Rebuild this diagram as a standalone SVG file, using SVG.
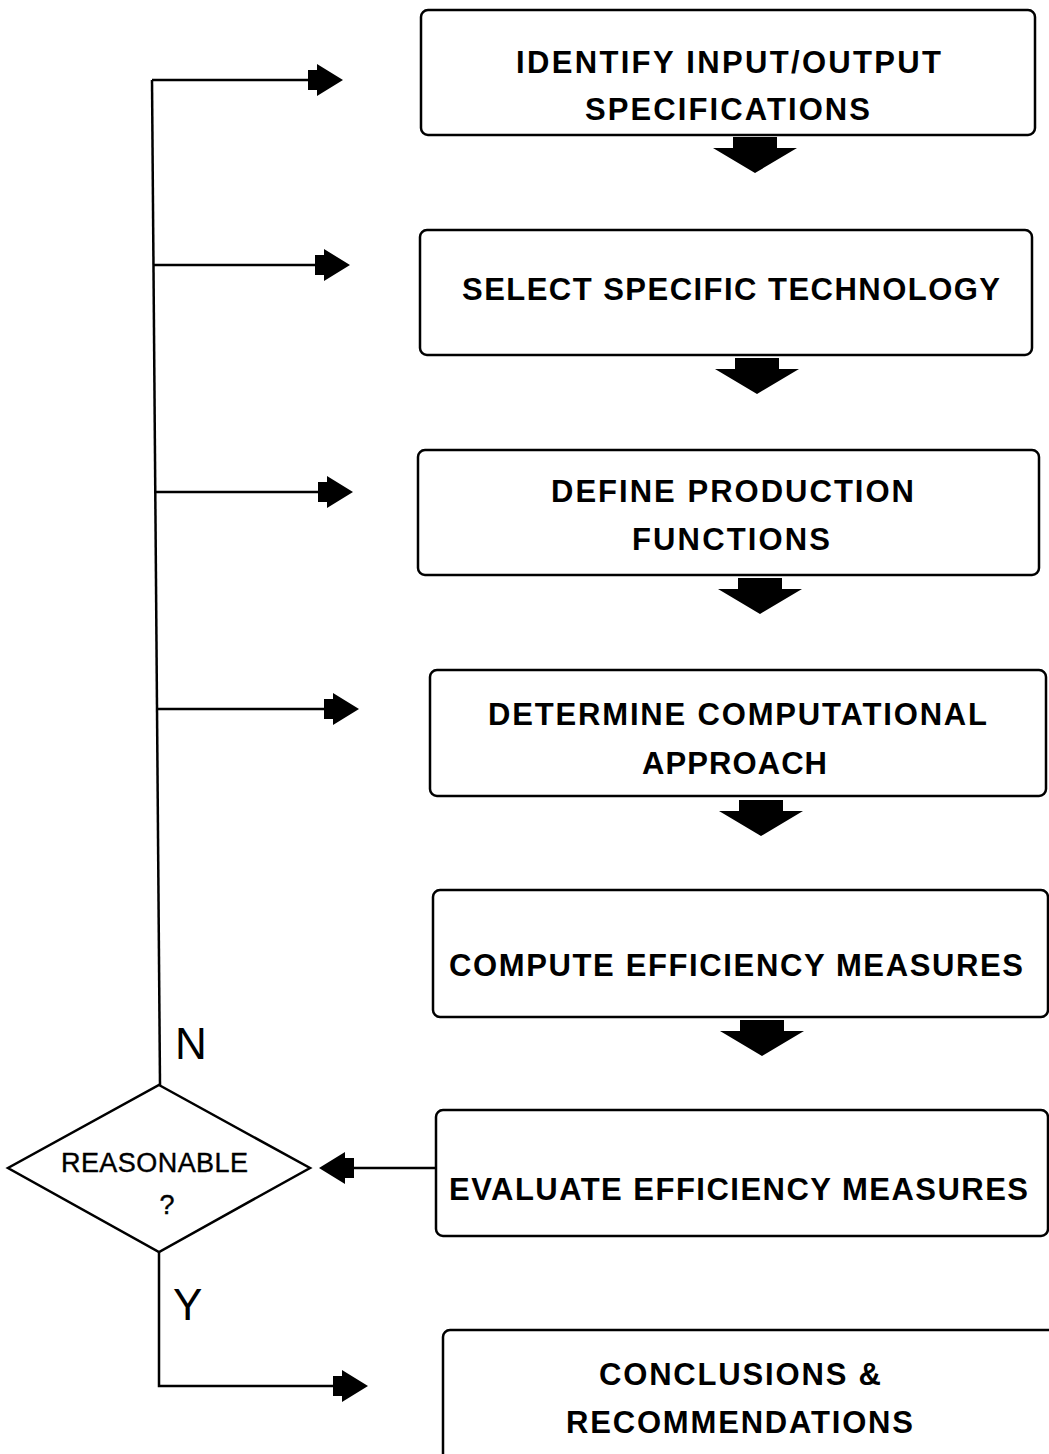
<svg xmlns="http://www.w3.org/2000/svg" width="1049" height="1454" viewBox="0 0 1049 1454">
<defs>
<style>
.box{fill:#fff;stroke:#000;stroke-width:2.5}
.t{font-family:"Liberation Sans",Arial,sans-serif;font-weight:bold;font-size:31px;fill:#000;text-anchor:middle}
.lbl{font-family:"Liberation Sans",Arial,sans-serif;font-size:44px;fill:#000}
.dt{font-family:"Liberation Sans",Arial,sans-serif;font-size:27px;fill:#000;text-anchor:middle;stroke:#000;stroke-width:0.4}
.ln{fill:none;stroke:#000;stroke-width:2.5}
.ah{fill:#000}
</style>
<polygon id="rarrow" points="0,0 -26,-16 -26,-10 -35,-10 -35,10 -26,10 -26,16"/>
<polygon id="darrow" points="0,0 -42,-25 -22,-25 -22,-36 22,-36 22,-25 42,-25"/>
</defs>
<rect width="1049" height="1454" fill="#fff"/>
<g id="connectors">
<polyline class="ln" points="152,80 160,1085"/>
<line class="ln" x1="152" y1="80" x2="312" y2="80"/>
<line class="ln" x1="154" y1="265" x2="318" y2="265"/>
<line class="ln" x1="156" y1="492" x2="320" y2="492"/>
<line class="ln" x1="158" y1="709" x2="326" y2="709"/>
<use class="ah" href="#rarrow" x="343" y="80"/>
<use class="ah" href="#rarrow" x="350" y="265"/>
<use class="ah" href="#rarrow" x="353" y="492"/>
<use class="ah" href="#rarrow" x="359" y="709"/>
<use class="ah" href="#darrow" x="755" y="173"/>
<use class="ah" href="#darrow" x="757" y="394"/>
<use class="ah" href="#darrow" x="760" y="614"/>
<use class="ah" href="#darrow" x="761" y="836"/>
<use class="ah" href="#darrow" x="762" y="1056"/>
<line class="ln" x1="436" y1="1168" x2="350" y2="1168"/>
<use class="ah" href="#rarrow" transform="translate(319,1168) rotate(180)"/>
<polyline class="ln" points="159,1252 159,1386 336,1386"/>
<use class="ah" href="#rarrow" x="368" y="1386"/>
</g>
<g id="n1">
<rect class="box" x="421" y="10" width="614" height="125" rx="7"/>
<text class="t" x="728.5" y="73" textLength="425" lengthAdjust="spacing">IDENTIFY INPUT/OUTPUT</text>
<text class="t" x="727.5" y="120" textLength="285" lengthAdjust="spacing">SPECIFICATIONS</text>
</g>
<g id="n2">
<rect class="box" x="420" y="230" width="612" height="125" rx="7"/>
<text class="t" x="731" y="300" textLength="538" lengthAdjust="spacing">SELECT SPECIFIC TECHNOLOGY</text>
</g>
<g id="n3">
<rect class="box" x="418" y="450" width="621" height="125" rx="7"/>
<text class="t" x="732.5" y="502" textLength="363" lengthAdjust="spacing">DEFINE PRODUCTION</text>
<text class="t" x="731" y="550" textLength="198" lengthAdjust="spacing">FUNCTIONS</text>
</g>
<g id="n4">
<rect class="box" x="430" y="670" width="616" height="126" rx="7"/>
<text class="t" x="737.5" y="725" textLength="499" lengthAdjust="spacing">DETERMINE COMPUTATIONAL</text>
<text class="t" x="734.5" y="774" textLength="185" lengthAdjust="spacing">APPROACH</text>
</g>
<g id="n5">
<rect class="box" x="433" y="890" width="615" height="127" rx="7"/>
<text class="t" x="736" y="976" textLength="574" lengthAdjust="spacing">COMPUTE EFFICIENCY MEASURES</text>
</g>
<g id="n6">
<rect class="box" x="436" y="1110" width="612" height="126" rx="7"/>
<text class="t" x="738.5" y="1200" textLength="579" lengthAdjust="spacing">EVALUATE EFFICIENCY MEASURES</text>
</g>
<g id="n7">
<rect class="box" x="443" y="1330" width="620" height="140" rx="7"/>
<text class="t" x="740" y="1385" textLength="282" lengthAdjust="spacing">CONCLUSIONS &amp;</text>
<text class="t" x="739.5" y="1433" textLength="347" lengthAdjust="spacing">RECOMMENDATIONS</text>
</g>
<g id="decision">
<polygon class="box" stroke-width="2" points="159,1085 310,1168 159,1252 8,1168"/>
<text class="dt" x="154.5" y="1172" textLength="187" lengthAdjust="spacing">REASONABLE</text>
<text class="dt" x="167" y="1214">?</text>
</g>
<text class="lbl" x="175" y="1059">N</text>
<text class="lbl" x="173" y="1320">Y</text>
</svg>
